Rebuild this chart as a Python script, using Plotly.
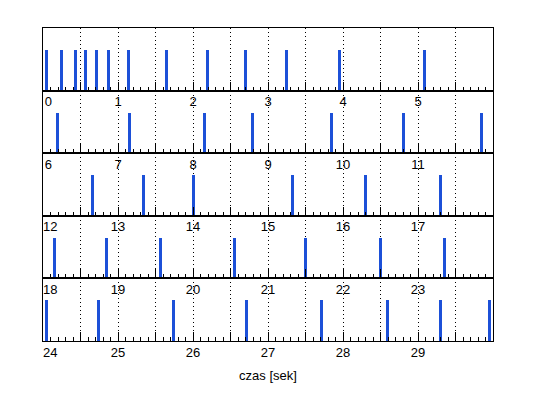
import plotly.graph_objects as go
from plotly.subplots import make_subplots

# spike times [s]
spike_times = [0.04, 0.24, 0.43, 0.56, 0.71, 0.87, 1.14, 1.65, 2.19, 2.70, 3.24, 3.95, 5.09,
               6.19, 7.15, 8.15, 8.79, 9.84, 10.80, 11.84,
               12.66, 13.34, 14.00, 15.33, 16.30, 17.30,
               18.15, 18.85, 19.56, 20.55, 21.50, 22.50, 23.35,
               24.04, 24.74, 25.74, 26.71, 27.71, 28.59, 29.30, 29.95]
spike_height = 1
row_starts = [0, 6, 12, 18, 24]
row_len = 6
x_label = "czas [sek]"

blue = "#1c50d8"
font = dict(family="Arial, Liberation Sans, sans-serif", size=13, color="black")

fig = make_subplots(rows=len(row_starts), cols=1, vertical_spacing=0)

for i, s in enumerate(row_starts):
    r = i + 1
    xs = [t for t in spike_times if s <= t < s + row_len]
    fig.add_trace(go.Bar(x=xs, y=[spike_height] * len(xs), width=0.04,
                         marker=dict(color=blue, line=dict(width=0)),
                         showlegend=False, hoverinfo="x"), row=r, col=1)
    tickvals = [s + 0.5 * k for k in range(2 * row_len)]
    ticktext = []
    for k, v in enumerate(tickvals):
        if k % 2 == 0:
            lab = str(int(round(v)))
            if k == 0:
                lab = "\u00a0" * (2 + len(lab)) + lab
            ticktext.append(lab)
        else:
            ticktext.append("")
    fig.update_xaxes(range=[s, s + row_len], tickvals=tickvals, ticktext=ticktext,
                     ticks="inside", ticklen=9, tickcolor="black", tickwidth=1,
                     showline=True, linecolor="black", linewidth=1, mirror=True,
                     showgrid=True, gridcolor="black", gridwidth=1, griddash="1px,3px",
                     zeroline=False, tickfont=font, ticklabelstandoff=-1,
                     automargin=False,
                     minor=dict(dtick=0.1, tick0=s, ticks="inside", ticklen=4,
                                tickcolor="black", showgrid=False),
                     row=r, col=1)
    fig.update_yaxes(range=[0, 1.53], showticklabels=False, ticks="",
                     showgrid=False, zeroline=False, automargin=False,
                     showline=True, linecolor="black", linewidth=1, mirror=True,
                     row=r, col=1)

fig.update_xaxes(title=dict(text=x_label, font=font, standoff=12), row=len(row_starts), col=1)

fig.update_layout(width=538, height=398,
                  margin=dict(l=43, r=45, t=28, b=57, autoexpand=False),
                  paper_bgcolor="white", plot_bgcolor="white", font=font,
                  bargap=0)

fig.write_html("out.html", config={"displayModeBar": False},
               post_script="document.body.style.margin='0';document.body.style.padding='0';")
